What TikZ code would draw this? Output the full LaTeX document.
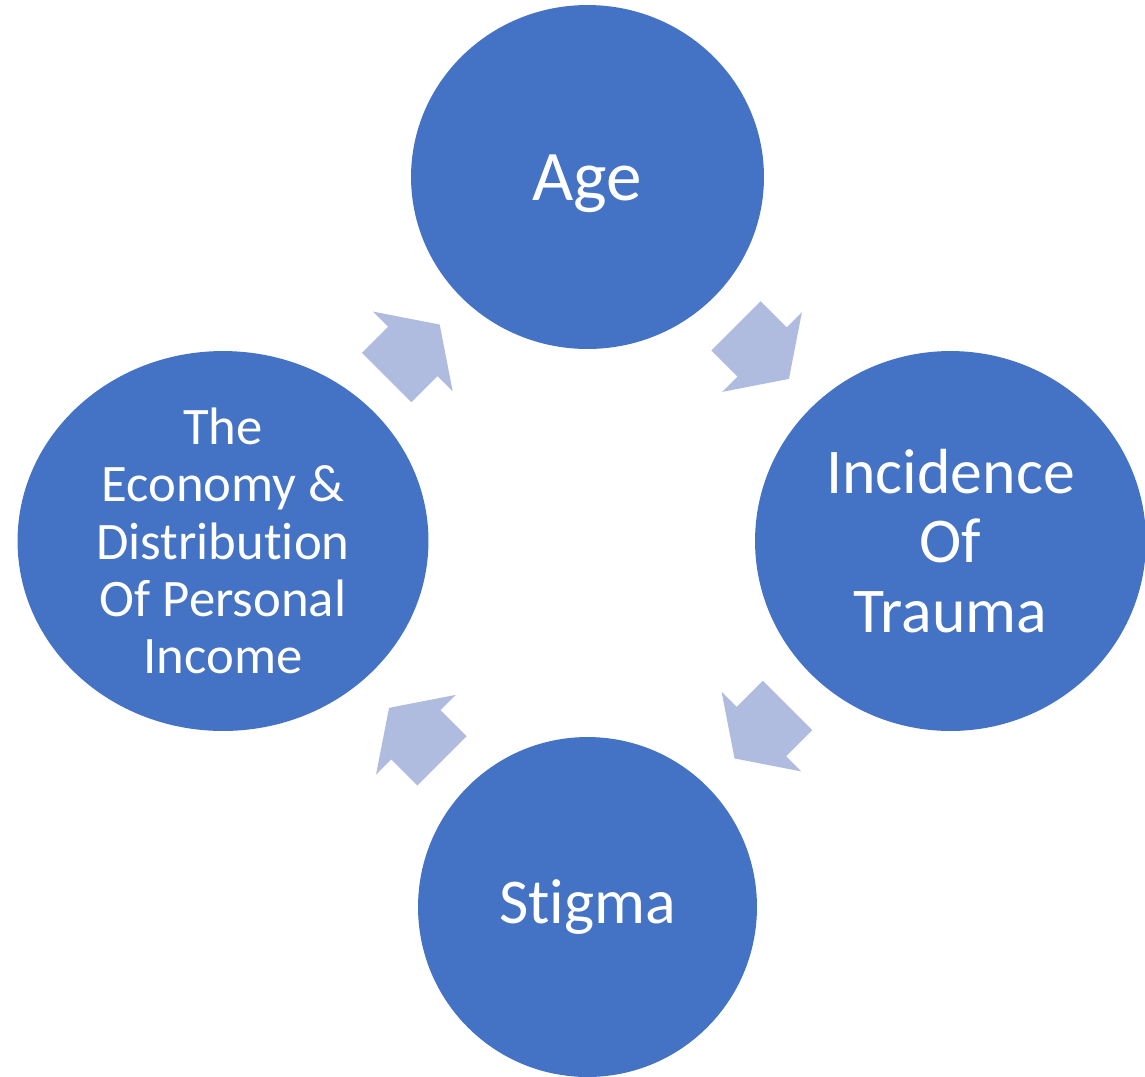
\documentclass[tikz,border=0pt]{standalone}
\usepackage{fontspec}
\setmainfont{Carlito}[Ligatures=NoCommon]
\usetikzlibrary{positioning,calc,shapes.geometric,shapes.arrows}
\definecolor{bubble}{HTML}{4472C4}
\definecolor{flow}{HTML}{B0BCDF}

\begin{document}
\begin{tikzpicture}[x=0.02cm,y=-0.02cm,
  bub/.style={ellipse,fill=bubble,inner sep=0pt},
  lbl/.style={text=white,align=center,inner sep=0pt},
  flowarrow/.style={single arrow,fill=flow,inner xsep=0pt,inner ysep=0.69cm,
    minimum height=1.5cm,single arrow head extend=0.43cm,single arrow tip angle=112}
]
\useasboundingbox (0,0) rectangle (1145,1076);

% the four bubbles
\node[bub,minimum width=7.06cm,minimum height=6.88cm] (age) at (587.5,177) {};
\node[bub,minimum width=7.82cm,minimum height=7.6cm] (inc) at (950.5,541) {};
\node[bub,minimum width=6.78cm,minimum height=6.8cm] (stig) at (587.5,907) {};
\node[bub,minimum width=8.22cm,minimum height=7.6cm] (econ) at (223,541) {};

\node[lbl,font=\fontsize{40.5}{44}\selectfont] (age-t) at ([yshift=-4]age.center) {Age};
\node[lbl,font=\fontsize{36.3}{39.7}\selectfont] (inc-t) at (inc) {Incidence\\Of\\Trauma};
\node[lbl,font=\fontsize{36.3}{39.7}\selectfont] (stig-t) at (stig) {Stigma};
\node[lbl,font=\fontsize{30}{32.6}\selectfont] (econ-t) at (econ)
  {The\\Economy \&\\Distribution\\Of Personal\\Income};

% cycle arrows
\node[flowarrow,rotate=-45] (a1) at ($(age)!0.459!(inc)$) {};
\node[flowarrow,rotate=-135] (a2) at ($(inc)!0.499!(stig)$) {};
\node[flowarrow,rotate=135] (a3) at ($(stig)!0.449!(econ)$) {};
\node[flowarrow,rotate=45] (a4) at ($(econ)!0.499!(age)$) {};
\end{tikzpicture}
\end{document}
